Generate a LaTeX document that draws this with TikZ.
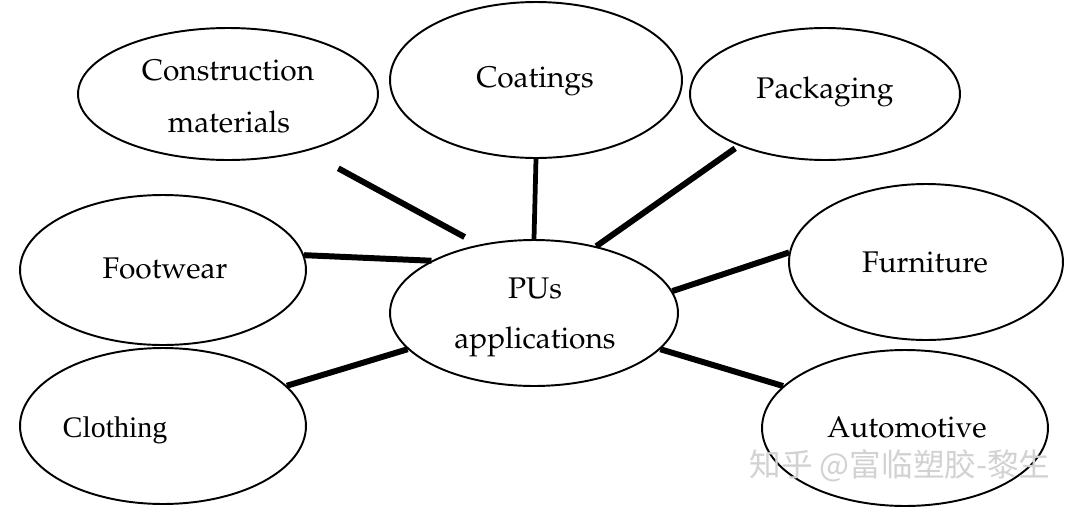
\documentclass[tikz,border=0pt]{standalone}
\usepackage{fontspec}
\newfontfamily\cjk{Noto Sans CJK SC}
\newfontfamily\timesf{Liberation Serif}
\usepackage[T1]{fontenc}
\usepackage{mathpazo}
\usetikzlibrary{shapes.geometric}
\begin{document}
\begin{tikzpicture}[x=0.02cm,y=-0.02cm,
  bub/.style={draw, ellipse, line width=1.1pt, inner sep=0pt},
  txt/.style={anchor=base, inner sep=0pt, font=\fontsize{17}{20}\selectfont},
  conn/.style={line width=3.4pt}]
\useasboundingbox[fill=white] (0,0) rectangle (1080,511);
\node[bub, minimum width=6cm,    minimum height=2.64cm] (cm) at (228,94)  {};
\node[bub, minimum width=5.84cm, minimum height=3.12cm] (co) at (536,80)  {};
\node[bub, minimum width=5.4cm,  minimum height=2.64cm] (pk) at (825,94)  {};
\node[bub, minimum width=5.72cm, minimum height=3cm]    (fw) at (163,270) {};
\node[bub, minimum width=5.76cm, minimum height=2.92cm] (pu) at (534,313) {};
\node[bub, minimum width=5.48cm, minimum height=3.12cm] (fu) at (926,262) {};
\node[bub, minimum width=5.72cm, minimum height=3.12cm] (cl) at (163,426) {};
\node[bub, minimum width=5.72cm, minimum height=3.12cm] (au) at (905,428) {};

\node[txt] (cmt1) at (228,80)  {Construction};
\node[txt] (cmt2) at (229,132) {materials};
\node[txt] (cot)  at (535,87)  {Coatings};
\node[txt] (pkt)  at (825,98)  {Packaging};
\node[txt] (fwt)  at (165,278) {Footwear};
\node[txt] (put1) at (535,298) {PUs};
\node[txt] (put2) at (535,348) {applications};
\node[txt] (fut)  at (925,272) {Furniture};
\node[txt, font=\timesf\fontsize{17}{20}\selectfont] (clt) at (115,437) {Clothing};
\node[txt] (aut)  at (907,437) {Automotive};

\draw[conn, shorten <=0.72cm, shorten >=0.32cm] (cm.-36.6) -- (pu.129.7);
\draw[conn, line width=2.7pt] (co.south) -- (pu.north);
\draw[conn, shorten <=0.09cm] (pk.211.5) -- (pu.47.6);
\draw[conn] (fw.6.8) -- (pu.153.4);
\draw[conn] (fu.176.2) -- (pu.9.5);
\draw[conn] (cl.18.3) -- (pu.196.6);
\draw[conn] (au.161.6) -- (pu.-16.6);

\node[font=\cjk\fontsize{18}{18}\selectfont, text=gray!35, inner sep=0pt] (wm) at (900,466) {知乎 @富临塑胶-黎生};
\end{tikzpicture}
\end{document}
